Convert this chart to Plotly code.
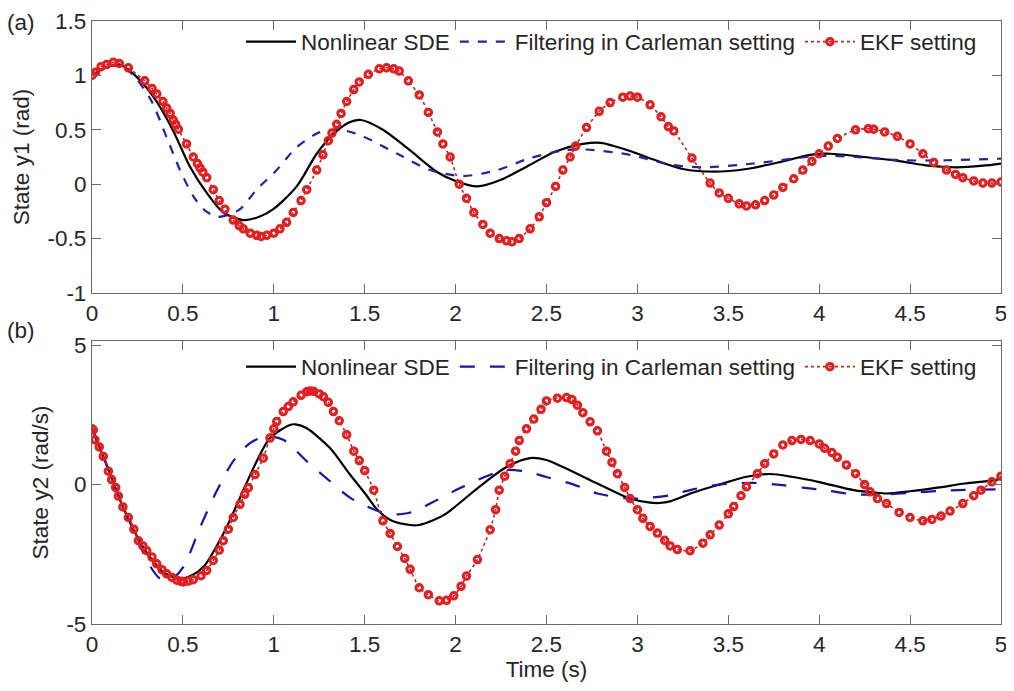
import plotly.graph_objects as go

# ---------------- data ----------------
# Panel (a): state y1 (rad)
t_a_sde = [0.0, 0.07, 0.15, 0.25, 0.356, 0.447, 0.539, 0.631, 0.722, 0.832, 0.92, 0.997, 1.126, 1.236,
           1.328, 1.41, 1.48, 1.6, 1.75, 1.9, 2.0, 2.12, 2.25, 2.4, 2.55, 2.7, 2.8, 2.95, 3.1, 3.25,
           3.42, 3.6, 3.8, 3.95, 4.06, 4.25, 4.45, 4.6, 4.76, 4.9, 5.0]
y_a_sde = [1.0, 1.07, 1.10, 0.98, 0.76, 0.49, 0.16, -0.08, -0.26, -0.33, -0.30, -0.23, -0.02, 0.28,
           0.46, 0.565, 0.59, 0.50, 0.31, 0.11, 0.03, -0.02, 0.04, 0.17, 0.30, 0.37, 0.38, 0.31, 0.22, 0.14,
           0.115, 0.14, 0.21, 0.27, 0.28, 0.25, 0.21, 0.17, 0.155, 0.17, 0.19]

t_a_carl = [0.0, 0.07, 0.13, 0.209, 0.319, 0.411, 0.484, 0.557, 0.62, 0.69, 0.75, 0.814, 0.906, 1.016,
            1.126, 1.254, 1.33, 1.40, 1.49, 1.68, 1.86, 2.04, 2.23, 2.41, 2.59, 2.7, 2.96, 3.18, 3.36,
            3.64, 4.0, 4.2, 4.46, 4.7, 5.0]
y_a_carl = [1.0, 1.07, 1.09, 1.03, 0.79, 0.43, 0.13, -0.11, -0.24, -0.30, -0.28, -0.23, -0.05, 0.13,
            0.34, 0.48, 0.50, 0.49, 0.44, 0.28, 0.13, 0.075, 0.13, 0.24, 0.31, 0.32, 0.27, 0.18, 0.155,
            0.19, 0.26, 0.25, 0.22, 0.22, 0.235]

t_a_ekf = [0.0, 0.02, 0.05, 0.08, 0.117, 0.15, 0.2, 0.29, 0.33, 0.356, 0.39, 0.411, 0.43, 0.447, 0.46,
           0.475, 0.52, 0.557, 0.58, 0.594, 0.61, 0.631, 0.667, 0.70, 0.731, 0.777, 0.81, 0.832, 0.87,
           0.906, 0.93, 0.961, 1.0, 1.034, 1.07, 1.107, 1.15, 1.181, 1.236, 1.27, 1.30, 1.32, 1.346,
           1.37, 1.401, 1.44, 1.47, 1.52, 1.58, 1.62, 1.66, 1.69, 1.74, 1.80, 1.85, 1.90, 1.93, 1.97,
           2.02, 2.06, 2.10, 2.15, 2.19, 2.24, 2.28, 2.31, 2.35, 2.41, 2.46, 2.5, 2.55, 2.59, 2.63,
           2.66, 2.72, 2.79, 2.85, 2.92, 2.96, 3.0, 3.07, 3.13, 3.17, 3.2, 3.3, 3.4, 3.45, 3.5, 3.56,
           3.6, 3.65, 3.70, 3.75, 3.80, 3.86, 3.91, 3.96, 4.0, 4.05, 4.1, 4.2, 4.27, 4.3, 4.36, 4.43,
           4.5, 4.57, 4.63, 4.70, 4.75, 4.79, 4.85, 4.90, 4.95, 5.0]
y_a_ekf = [1.0, 1.03, 1.08, 1.10, 1.12, 1.11, 1.07, 0.95, 0.88, 0.83, 0.76, 0.70, 0.65, 0.59, 0.55,
           0.505, 0.37, 0.25, 0.19, 0.15, 0.11, 0.06, -0.05, -0.15, -0.23, -0.33, -0.38, -0.41, -0.45,
           -0.47, -0.48, -0.47, -0.45, -0.41, -0.35, -0.26, -0.15, -0.05, 0.13, 0.27, 0.40, 0.47, 0.55,
           0.65, 0.76, 0.87, 0.94, 1.01, 1.06, 1.07, 1.06, 1.04, 0.95, 0.82, 0.66, 0.48, 0.37, 0.25,
           0.0, -0.13, -0.26, -0.37, -0.45, -0.50, -0.52, -0.53, -0.50, -0.41, -0.30, -0.17, -0.02, 0.13, 0.25,
           0.35, 0.52, 0.67, 0.75, 0.80, 0.81, 0.80, 0.73, 0.62, 0.53, 0.49, 0.24, 0.01, -0.08, -0.13, -0.18,
           -0.20, -0.19, -0.15, -0.10, -0.03, 0.05, 0.13, 0.21, 0.28, 0.35, 0.42, 0.50, 0.51, 0.505, 0.48, 0.44,
           0.37, 0.28, 0.20, 0.13, 0.09, 0.06, 0.03, 0.01, 0.01, 0.02]

# Panel (b): state y2 (rad/s)
t_b_sde = [0.0, 0.007, 0.09, 0.172, 0.282, 0.392, 0.484, 0.55, 0.612, 0.722, 0.814, 0.906, 0.979, 1.089,
           1.12, 1.181, 1.309, 1.419, 1.5, 1.575, 1.65, 1.75, 1.80, 1.87, 1.95, 2.13, 2.28, 2.41, 2.5,
           2.59, 2.78, 2.96, 3.07, 3.12, 3.18, 3.3, 3.45, 3.6, 3.73, 3.85, 4.0, 4.19, 4.3, 4.37, 4.5,
           4.65, 4.8, 4.98, 5.0]
y_b_sde = [2.0, 1.90, 0.55, -0.83, -2.25, -3.14, -3.37, -3.25, -2.96, -1.77, -0.47, 0.84, 1.67, 2.14,
           2.16, 2.02, 1.31, 0.36, -0.30, -0.94, -1.30, -1.45, -1.45, -1.30, -1.03, -0.08, 0.63, 0.95, 0.88,
           0.63, 0.04, -0.50, -0.65, -0.66, -0.60, -0.30, 0.0, 0.28, 0.38, 0.28, 0.09, -0.20, -0.28, -0.32,
           -0.24, -0.11, 0.04, 0.18, 0.24]

t_b_carl = [0.0, 0.09, 0.172, 0.227, 0.301, 0.374, 0.429, 0.502, 0.594, 0.686, 0.777, 0.869, 0.961,
            1.052, 1.181, 1.309, 1.419, 1.5, 1.6, 1.68, 1.78, 1.86, 2.04, 2.23, 2.30, 2.4, 2.5, 2.65,
            2.78, 2.96, 3.07, 3.18, 3.3, 3.45, 3.64, 3.8, 3.91, 4.05, 4.19, 4.37, 4.5, 4.65, 4.8, 5.0]
y_b_carl = [2.0, 0.55, -0.83, -1.54, -2.72, -3.37, -3.43, -2.96, -1.54, -0.23, 0.84, 1.49, 1.73,
            1.61, 0.84, 0.12, -0.47, -0.75, -1.0, -1.07, -0.95, -0.68, -0.08, 0.45, 0.53, 0.45, 0.27, 0.0,
            -0.32, -0.50, -0.47, -0.38, -0.18, 0.0, 0.06, -0.02, -0.11, -0.22, -0.35, -0.35, -0.30, -0.23,
            -0.19, -0.17]

t_b_ekf = [0.0, 0.007, 0.016, 0.04, 0.062, 0.09, 0.108, 0.13, 0.145, 0.17, 0.2, 0.23, 0.255, 0.28,
           0.301, 0.33, 0.356, 0.385, 0.411, 0.44, 0.466, 0.49, 0.502, 0.53, 0.557, 0.6, 0.631, 0.667,
           0.7, 0.722, 0.75, 0.777, 0.814, 0.84, 0.86, 0.897, 0.942, 0.979, 1.0, 1.016, 1.052, 1.08,
           1.107, 1.15, 1.181, 1.2, 1.218, 1.25, 1.273, 1.30, 1.328, 1.36, 1.401, 1.44, 1.47, 1.5,
           1.55, 1.60, 1.64, 1.68, 1.72, 1.75, 1.80, 1.85, 1.91, 1.95, 1.99, 2.03, 2.06, 2.12, 2.19,
           2.22, 2.24, 2.27, 2.30, 2.33, 2.35, 2.39, 2.43, 2.47, 2.5, 2.56, 2.61, 2.64, 2.67, 2.7,
           2.74, 2.78, 2.83, 2.86, 2.89, 2.93, 2.96, 3.0, 3.03, 3.07, 3.11, 3.15, 3.18, 3.22, 3.29,
           3.36, 3.4, 3.45, 3.5, 3.53, 3.57, 3.60, 3.66, 3.7, 3.75, 3.80, 3.85, 3.90, 3.95, 4.0, 4.03,
           4.07, 4.1, 4.15, 4.2, 4.25, 4.28, 4.32, 4.37, 4.44, 4.5, 4.57, 4.62, 4.67, 4.72, 4.79, 4.85,
           4.89, 4.95, 5.0]
y_b_ekf = [2.0, 1.96, 1.61, 1.35, 1.01, 0.48, 0.18, -0.10, -0.41, -0.80, -1.18, -1.60, -2.01, -2.20,
           -2.37, -2.60, -2.84, -3.05, -3.20, -3.33, -3.43, -3.47, -3.49, -3.46, -3.41, -3.27, -3.08, -2.72,
           -2.35, -2.01, -1.60, -1.18, -0.71, -0.35, -0.11, 0.36, 0.95, 1.67, 2.0, 2.26, 2.62, 2.80,
           2.97, 3.20, 3.33, 3.36, 3.35, 3.25, 3.15, 2.95, 2.62, 2.29, 1.79, 1.20, 0.86, 0.50,
           -0.20, -1.30, -1.75, -2.22, -2.65, -3.04, -3.70, -3.95, -4.17, -4.15, -3.99, -3.65, -3.28, -2.69, -1.62,
           -0.90, -0.20, 0.30, 0.75, 1.20, 1.58, 2.0, 2.35, 2.70, 3.0, 3.10, 3.12, 3.05, 2.85, 2.58,
           2.25, 1.93, 1.20, 0.80, 0.39, -0.10, -0.50, -0.90, -1.21, -1.50, -1.74, -2.0, -2.20, -2.33, -2.37,
           -2.10, -1.80, -1.45, -1.05, -0.79, -0.40, -0.08, 0.39, 0.75, 1.10, 1.42, 1.58, 1.62, 1.58, 1.46, 1.30,
           1.15, 0.98, 0.70, 0.39, 0.0, -0.26, -0.50, -0.68, -1.0, -1.18, -1.30, -1.25, -1.13, -0.95, -0.68, -0.40,
           -0.20, 0.10, 0.30]

x_ticks = [0, 0.5, 1, 1.5, 2, 2.5, 3, 3.5, 4, 4.5, 5]
x_tick_text = ["0", "0.5", "1", "1.5", "2", "2.5", "3", "3.5", "4", "4.5", "5"]
ya_ticks = [-1, -0.5, 0, 0.5, 1, 1.5]
ya_tick_text = ["-1", "-0.5", "0", "0.5", "1", "1.5"]
yb_ticks = [-5, 0, 5]
yb_tick_text = ["-5", "0", "5"]

names = ["Nonlinear SDE", "Filtering in Carleman setting", "EKF setting"]

# ---------------- styling ----------------
FONT = "Liberation Sans, Arial, sans-serif"
FS = 22.5
TXT = "#262626"
BLACK = "#000000"
BLUE_A = "#1f23a8"
BLUE_B = "#1414b4"
RED_LINE = "#b02a2a"
RED_MK = "#e81c1c"

fig = go.Figure()

def add_panel(t1, y1, t2, y2, t3, y3, xa, ya, legend, blue, bluedash):
    fig.add_trace(go.Scatter(x=t1, y=y1, mode="lines", name=names[0], xaxis=xa, yaxis=ya,
                             line=dict(color=BLACK, width=2.2, shape="spline", smoothing=0.8),
                             legend=legend))
    fig.add_trace(go.Scatter(x=t2, y=y2, mode="lines", name=names[1], xaxis=xa, yaxis=ya,
                             line=dict(color=blue, width=2.2, dash=bluedash, shape="spline", smoothing=0.8),
                             legend=legend))
    fig.add_trace(go.Scatter(x=t3, y=y3, mode="lines+markers", name=names[2], xaxis=xa, yaxis=ya,
                             line=dict(color=RED_LINE, width=1.6, dash="dot", shape="spline", smoothing=0.6),
                             marker=dict(symbol="circle-open", size=6.5, color=RED_MK,
                                         line=dict(width=3, color=RED_MK)),
                             legend=legend))

add_panel(t_a_sde, y_a_sde, t_a_carl, y_a_carl, t_a_ekf, y_a_ekf, "x", "y", "legend", BLUE_A, "dash")
add_panel(t_b_sde, y_b_sde, t_b_carl, y_b_carl, t_b_ekf, y_b_ekf, "x2", "y2", "legend2", BLUE_B, "longdash")

# The page body adds an 8 px offset, so the figure is sized to fill the rest of the window.
OFF = 8
W, H = 1014 - OFF, 691 - OFF
ml, mr, mt, mb = 92 - OFF, 13, 21 - OFF, 67
plot_h = H - mt - mb

def py(p):  # window pixel y -> paper y
    return (H - mb - (p - OFF)) / plot_h

def px(p):  # window pixel x -> paper x
    return ((p - OFF) - ml) / (W - ml - mr)

axis_common = dict(showline=True, linecolor="#6a6a6a", linewidth=1.2, mirror="ticks",
                   ticks="inside", ticklen=9, tickwidth=1.2, tickcolor="#6a6a6a",
                   showgrid=False, zeroline=False, automargin=False, ticklabeloverflow="allow",
                   tickfont=dict(family=FONT, size=FS, color=TXT))

fig.update_layout(
    width=W, height=H,
    margin=dict(l=ml, r=mr, t=mt, b=mb, autoexpand=False),
    paper_bgcolor="white", plot_bgcolor="white",
    font=dict(family=FONT, size=FS, color=TXT),
    xaxis=dict(domain=[0, 1], anchor="y", range=[0, 5], tickvals=x_ticks, ticktext=x_tick_text,
               **axis_common),
    yaxis=dict(domain=[py(293), 1], anchor="x", range=[-1, 1.5], tickvals=ya_ticks,
               ticktext=ya_tick_text, title=dict(text="State y1 (rad)", standoff=11,
                                                font=dict(family=FONT, size=FS, color=TXT)),
               **axis_common),
    xaxis2=dict(domain=[0, 1], anchor="y2", range=[0, 5], tickvals=x_ticks, ticktext=x_tick_text,
                title=dict(text="Time (s)", standoff=5, font=dict(family=FONT, size=FS, color=TXT)),
                **axis_common),
    yaxis2=dict(domain=[0, py(341)], anchor="x2", range=[-5, 5.15], tickvals=yb_ticks,
                ticktext=yb_tick_text, title=dict(text="State y2 (rad/s)", standoff=11,
                                                 font=dict(family=FONT, size=FS, color=TXT)),
                **axis_common),
    legend=dict(orientation="h", x=px(241), y=py(42), xanchor="left", yanchor="middle",
                bgcolor="rgba(255,255,255,0)", font=dict(family=FONT, size=FS, color=TXT),
                itemwidth=50, tracegroupgap=0),
    legend2=dict(orientation="h", x=px(241), y=py(367), xanchor="left", yanchor="middle",
                 bgcolor="rgba(255,255,255,0)", font=dict(family=FONT, size=FS, color=TXT),
                 itemwidth=50, tracegroupgap=0),
    annotations=[
        dict(text="(a)", x=px(5), y=py(OFF), xref="paper", yref="paper", showarrow=False,
             xanchor="left", yanchor="top", font=dict(family=FONT, size=FS, color=TXT)),
        dict(text="(b)", x=px(5), y=py(330), xref="paper", yref="paper", showarrow=False,
             xanchor="left", yanchor="middle", font=dict(family=FONT, size=FS, color=TXT)),
    ],
)

fig.write_html("out.html")
